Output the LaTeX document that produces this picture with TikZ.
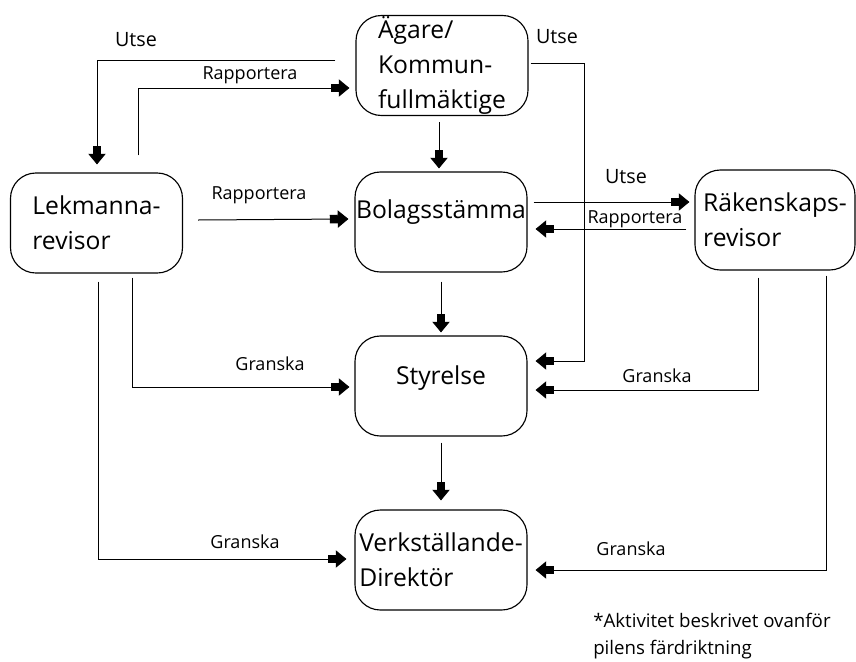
\documentclass[tikz,border=0pt]{standalone}
\usepackage{fontspec}
\setmainfont{Open Sans}
\usetikzlibrary{arrows.meta}

\begin{document}
\begin{tikzpicture}[x=0.75pt,y=-0.75pt,
    box/.style={draw,rounded corners=19pt,line width=0.85pt,minimum width=129pt,minimum height=75pt,
        align=left,inner sep=0pt,font=\fontsize{18.5}{26.5}\selectfont},
    lbl/.style={anchor=base,inner sep=0pt,font=\fontsize{13.5}{16}\selectfont},
    pil/.style={line width=0.75pt,-{Rectangle[length=6pt,width=6.5pt]Triangle[length=8pt,width=13pt]}}]

    \useasboundingbox (0,0) rectangle (856,661);

    % boxes
    \node[box] (agare) at (442,65.5) {Ägare/\\Kommun-\\fullmäktige};
    \node[box] (lek) at (96.5,223) {Lekmanna-\\revisor};
    \node[box,text depth=19pt] (bol) at (441,222) {Bolagsstämma};
    \node[box,minimum width=120pt] (rak) at (775,220) {Räkenskaps-\\revisor};
    \node[box,text depth=16pt] (sty) at (441,386) {Styrelse};
    \node[box] (verk) at (441,560) {Verkställande-\\Direktör};

    % arrows
    %%% from the owners
    \draw[pil] ([shift={(-20,-5.5)}]agare.west) -| ([shift={(0.5,-8)}]lek.north);
    \draw[pil] ([shift={(-3,6)}]agare.south) -- ([shift={(-2,-3)}]bol.north);
    \draw[pil] ([shift={(2,-2.5)}]agare.east) -| ([shift={(57,-25)}]sty.east) -- ([shift={(8,-25)}]sty.east);
    %%% lay auditor
    \draw[pil] ([shift={(41.5,-17)}]lek.north) |- ([shift={(-6,22.5)}]agare.west);
    \draw[pil] ([shift={(15,-3)}]lek.east) -- ([shift={(-6,-3)}]bol.west);
    \draw[pil] ([shift={(35.5,4)}]lek.south) |- ([shift={(-5,1)}]sty.west);
    \draw[pil] ([shift={(1.5,8)}]lek.south) |- ([shift={(-8,-1)}]verk.west);
    %%% meeting, board
    \draw[pil] ([shift={(6,-20)}]bol.east) -- ([shift={(-5,-18)}]rak.west);
    \draw[pil] ([shift={(-8,9)}]rak.west) -- ([shift={(8,7)}]bol.east);
    \draw[pil] ([shift={(0,9)}]bol.south) -- ([shift={(0,-3)}]sty.north);
    \draw[pil] ([shift={(0,6)}]sty.south) -- ([shift={(0,-9)}]verk.north);
    %%% accounting auditor
    \draw[pil] ([shift={(-17,7)}]rak.south) |- ([shift={(8,4)}]sty.east);
    \draw[pil] ([shift={(51,5)}]rak.south) |- ([shift={(8,10)}]verk.east);

    % labels
    \node[lbl,font=\fontsize{14.8}{16}\selectfont] (utse1) at (136,46) {Utse};
    \node[lbl] (rapp1) at (250,79) {Rapportera};
    \node[lbl,font=\fontsize{14.8}{16}\selectfont] (utse2) at (557,43) {Utse};
    \node[lbl] (rapp2) at (259,199) {Rapportera};
    \node[lbl,font=\fontsize{14.8}{16}\selectfont] (utse3) at (626,183) {Utse};
    \node[lbl] (rapp3) at (635,223) {Rapportera};
    \node[lbl] (gran1) at (270,370) {Granska};
    \node[lbl] (gran2) at (657,382) {Granska};
    \node[lbl] (gran3) at (245,548) {Granska};
    \node[lbl] (gran4) at (631,555) {Granska};

    % note
    \node[anchor=base west,inner sep=0pt,align=left,font=\fontsize{14}{20}\selectfont] (note) at (593,654)
        {*Aktivitet beskrivet ovanför\\pilens färdriktning};

\end{tikzpicture}
\end{document}
